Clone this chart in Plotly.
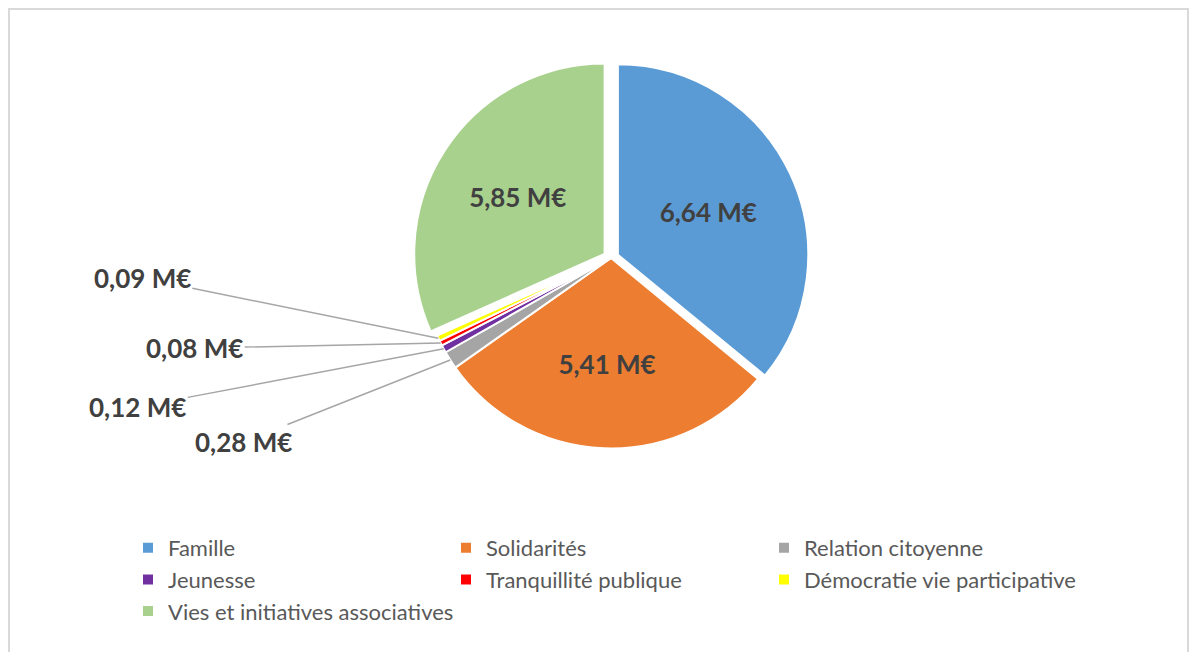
import math
import plotly.graph_objects as go

categories = ["Famille", "Solidarités", "Relation citoyenne", "Jeunesse",
              "Tranquillité publique", "Démocratie vie participative",
              "Vies et initiatives associatives"]
values = [6.64, 5.41, 0.28, 0.12, 0.08, 0.09, 5.85]
value_labels = ["6,64 M€", "5,41 M€", "0,28 M€", "0,12 M€", "0,08 M€", "0,09 M€", "5,85 M€"]
colors = ["#5B9BD5", "#ED7D31", "#A5A5A5", "#7030A0", "#FF0000", "#FFFF00", "#A9D18E"]
pulls = [0.04, 0, 0, 0, 0, 0, 0.04]
small = [False, False, True, True, True, True, False]
# label offsets (pixels) for the small outside labels
label_offsets = {2: (-207, 82), 3: (-306, 58), 4: (-246, 5), 5: (-296, -60)}

W, H = 1197, 652
cx_px, cy_px = 611, 258
half = 198  # half of domain size in px

fig = go.Figure()
fig.add_trace(go.Pie(
    labels=categories, values=values, sort=False, direction="clockwise", rotation=0,
    marker=dict(colors=colors, line=dict(color="white", width=2)),
    pull=pulls,
    text=[("" if s else t) for s, t in zip(small, value_labels)],
    textinfo="text", textposition="inside", insidetextorientation="horizontal",
    textfont=dict(family="Lato, sans-serif", size=26, color="#404040", weight="bold"),
    domain=dict(x=[(cx_px - half) / W, (cx_px + half) / W],
                y=[1 - (cy_px + half) / H, 1 - (cy_px - half) / H]),
    hoverinfo="label+value",
))

# annotations for small slices computed from the data
total = sum(values)
r = half / (1 + max(pulls))
cum = 0.0
annotations = []
for i, v in enumerate(values):
    mid = (cum + v / 2) / total
    cum += v
    if not small[i]:
        continue
    th = 2 * math.pi * mid
    px = cx_px + r * math.sin(th)
    py = cy_px - r * math.cos(th)
    ax, ay = label_offsets[i]
    annotations.append(dict(
        x=px / W, y=1 - py / H, xref="paper", yref="paper",
        text=value_labels[i], showarrow=True, arrowhead=0, arrowwidth=1.5,
        arrowcolor="#A6A6A6", ax=ax, ay=ay,
        font=dict(family="Lato, sans-serif", size=26, color="#404040", weight="bold"),
    ))

fig.update_layout(
    width=W, height=H, margin=dict(l=0, r=0, t=0, b=0, autoexpand=False),
    paper_bgcolor="white", plot_bgcolor="white",
    annotations=annotations,
    legend=dict(orientation="h", x=128 / W, y=1 - 527 / H, yanchor="top", xanchor="left",
                entrywidth=273, entrywidthmode="pixels",
                font=dict(family="Lato, sans-serif", size=22, color="#595959")),
    shapes=[dict(type="rect", xref="paper", yref="paper",
                 x0=9 / W, x1=1188 / W, y0=-0.05, y1=1 - 9 / H,
                 line=dict(color="#D9D9D9", width=2), fillcolor="rgba(0,0,0,0)")],
)

fig.write_html("out.html", config={"displayModeBar": False},
               post_script="document.body.style.margin='0';")
